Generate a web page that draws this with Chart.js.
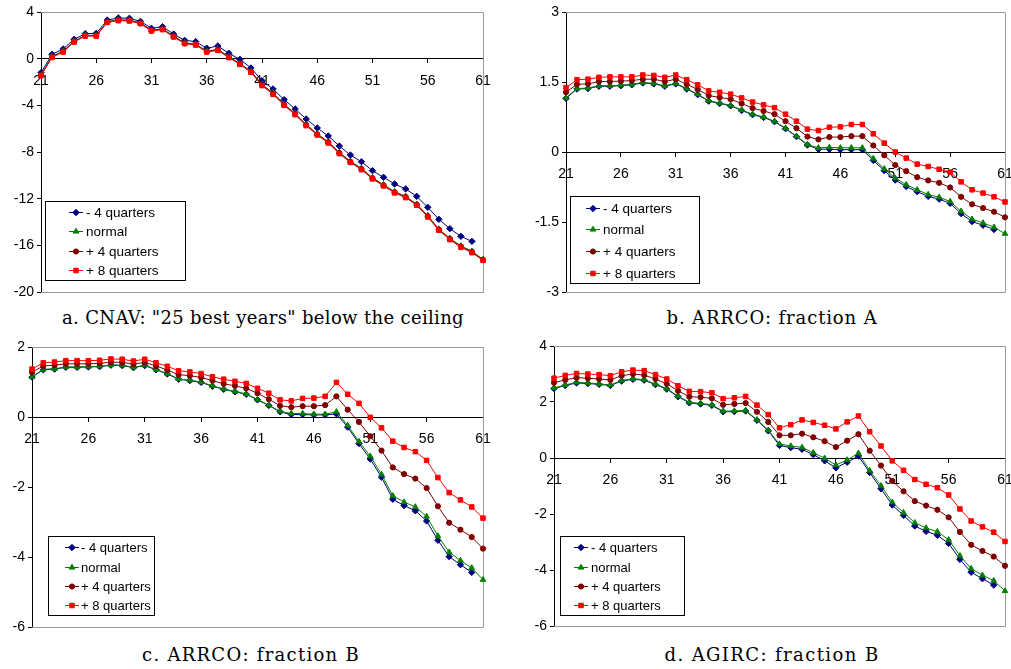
<!DOCTYPE html>
<html><head><meta charset="utf-8">
<script src="https://cdn.jsdelivr.net/npm/chart.js@4.4.1/dist/chart.umd.min.js"></script>
<style>
html,body{margin:0;padding:0;background:#fff;overflow:hidden;width:1011px;height:669px;position:relative;}
canvas{position:absolute;}
.cap{position:absolute;font-family:"DejaVu Serif",serif;font-size:18px;line-height:18px;color:#000;white-space:nowrap;transform:translateX(-50%);}
</style></head><body>
<canvas id="ca" width="505" height="305" style="left:0;top:0"></canvas>
<canvas id="cb" width="520" height="305" style="left:520px;top:0"></canvas>
<canvas id="cc" width="505" height="310" style="left:0;top:330px"></canvas>
<canvas id="cd" width="520" height="310" style="left:520px;top:330px"></canvas>
<div class="cap" id="capA" style="left:263px;top:309px;letter-spacing:0.34px"></div>
<div class="cap" id="capB" style="left:772px;top:309px;letter-spacing:0.87px"></div>
<div class="cap" id="capC" style="left:251px;top:646px;letter-spacing:1.27px"></div>
<div class="cap" id="capD" style="left:772px;top:646px;letter-spacing:1.4px"></div>
<script>
// ---- data ----
const ages = [21,22,23,24,25,26,27,28,29,30,31,32,33,34,35,36,37,38,39,40,41,42,43,44,45,46,47,48,49,50,51,52,53,54,55,56,57,58,59,60,61];
const seriesNames = ['- 4 quarters','normal','+ 4 quarters','+ 8 quarters'];
const captions = ['a. CNAV: "25 best years" below the ceiling','b. ARRCO: fraction A','c. ARRCO: fraction B','d. AGIRC: fraction B'];

// Panel a: CNAV
const aMinus4 = [-1.2,0.37,0.83,1.66,2.14,2.17,3.31,3.49,3.46,3.2,2.6,2.74,2.11,1.57,1.46,0.89,1.09,0.46,-0.06,-0.8,-1.89,-2.6,-3.51,-4.31,-5.17,-5.94,-6.63,-7.49,-8.26,-8.83,-9.6,-10.17,-10.74,-11.17,-11.8,-12.74,-13.77,-14.57,-15.23,-15.66,null];
const aNormal = [-1.4,0.2,0.65,1.5,2.0,2.0,3.18,3.34,3.31,3.07,2.44,2.57,1.94,1.36,1.25,0.65,0.8,0.17,-0.41,-1.08,-2.2,-2.95,-3.9,-4.7,-5.64,-6.44,-7.12,-8.03,-8.79,-9.4,-10.2,-10.8,-11.4,-11.8,-12.47,-13.45,-14.6,-15.4,-16.05,-16.5,-17.2];
const aPlus4 = [-1.43,0.15,0.61,1.46,1.97,1.97,3.14,3.3,3.27,3.03,2.4,2.53,1.9,1.32,1.21,0.61,0.75,0.13,-0.45,-1.12,-2.25,-3.0,-3.95,-4.75,-5.69,-6.49,-7.17,-8.08,-8.84,-9.45,-10.25,-10.85,-11.45,-11.85,-12.52,-13.51,-14.65,-15.45,-16.1,-16.56,-17.25];
const aPlus8 = [-1.46,0.11,0.57,1.43,1.94,1.94,3.11,3.26,3.23,3.0,2.37,2.49,1.86,1.29,1.17,0.57,0.71,0.09,-0.49,-1.17,-2.31,-3.06,-4.0,-4.8,-5.74,-6.54,-7.23,-8.14,-8.89,-9.51,-10.31,-10.91,-11.51,-11.91,-12.57,-13.57,-14.71,-15.51,-16.17,-16.63,-17.29];

// Panel b: ARRCO fraction A
const bMinus4 = [1.15,1.35,1.36,1.41,1.41,1.42,1.44,1.48,1.46,1.41,1.46,1.35,1.23,1.09,1.04,0.99,0.89,0.8,0.74,0.65,0.5,0.33,0.15,0.06,0.06,0.05,0.05,0.05,-0.18,-0.4,-0.6,-0.74,-0.85,-0.95,-1.01,-1.1,-1.32,-1.49,-1.57,-1.66,null];
const bNormal = [1.16,1.36,1.37,1.42,1.42,1.43,1.45,1.49,1.47,1.42,1.47,1.36,1.24,1.1,1.05,1.0,0.9,0.81,0.75,0.66,0.51,0.34,0.16,0.09,0.1,0.09,0.09,0.09,-0.14,-0.36,-0.56,-0.7,-0.81,-0.91,-0.97,-1.06,-1.27,-1.44,-1.52,-1.61,-1.75];
const bPlus4 = [1.28,1.45,1.46,1.51,1.51,1.52,1.53,1.56,1.56,1.51,1.56,1.45,1.34,1.21,1.17,1.13,1.04,0.94,0.88,0.81,0.66,0.51,0.33,0.27,0.32,0.32,0.34,0.34,0.14,-0.07,-0.28,-0.41,-0.54,-0.61,-0.66,-0.76,-0.96,-1.12,-1.2,-1.28,-1.4];
const bPlus8 = [1.38,1.55,1.56,1.6,1.61,1.61,1.61,1.65,1.64,1.6,1.65,1.55,1.44,1.31,1.28,1.24,1.16,1.07,1.01,0.95,0.81,0.66,0.49,0.46,0.53,0.54,0.59,0.59,0.39,0.19,0.0,-0.13,-0.26,-0.31,-0.37,-0.43,-0.64,-0.81,-0.88,-0.96,-1.07];

// Panel c: ARRCO fraction B
const cMinus4 = [1.14,1.35,1.37,1.42,1.42,1.43,1.44,1.48,1.47,1.41,1.47,1.35,1.23,1.08,1.04,0.99,0.88,0.79,0.72,0.65,0.49,0.33,0.15,0.07,0.07,0.06,0.06,0.09,-0.29,-0.76,-1.2,-1.72,-2.35,-2.53,-2.68,-2.97,-3.52,-3.99,-4.22,-4.44,null];
const cNormal = [1.15,1.36,1.38,1.43,1.43,1.44,1.45,1.49,1.48,1.42,1.48,1.36,1.24,1.09,1.05,1.0,0.89,0.8,0.73,0.66,0.5,0.34,0.16,0.1,0.1,0.08,0.08,0.15,-0.24,-0.7,-1.12,-1.64,-2.25,-2.43,-2.57,-2.84,-3.4,-3.86,-4.1,-4.31,-4.65];
const cPlus4 = [1.28,1.46,1.48,1.52,1.52,1.52,1.53,1.57,1.56,1.51,1.56,1.46,1.34,1.21,1.18,1.13,1.04,0.95,0.89,0.82,0.68,0.51,0.32,0.28,0.31,0.31,0.34,0.59,0.21,-0.14,-0.55,-0.96,-1.44,-1.63,-1.76,-2.03,-2.55,-3.02,-3.22,-3.43,-3.76];
const cPlus8 = [1.37,1.55,1.57,1.61,1.61,1.61,1.62,1.66,1.65,1.6,1.65,1.55,1.45,1.32,1.29,1.24,1.15,1.08,1.02,0.96,0.82,0.68,0.49,0.46,0.53,0.54,0.59,0.99,0.65,0.39,-0.01,-0.31,-0.69,-0.87,-0.99,-1.24,-1.73,-2.16,-2.37,-2.57,-2.89];

// Panel d: AGIRC fraction B
const dMinus4 = [2.48,2.59,2.68,2.66,2.63,2.59,2.75,2.81,2.78,2.62,2.46,2.19,1.97,1.93,1.88,1.65,1.66,1.68,1.35,0.97,0.45,0.37,0.31,0.12,-0.1,-0.35,-0.15,0.07,-0.52,-1.1,-1.68,-2.05,-2.43,-2.62,-2.76,-3.05,-3.62,-4.08,-4.31,-4.54,null];
const dNormal = [2.5,2.61,2.7,2.68,2.65,2.61,2.77,2.83,2.8,2.64,2.48,2.21,1.99,1.95,1.9,1.67,1.68,1.7,1.37,0.99,0.5,0.43,0.38,0.19,-0.01,-0.25,-0.07,0.17,-0.45,-0.99,-1.58,-1.95,-2.31,-2.5,-2.63,-2.92,-3.49,-3.95,-4.19,-4.38,-4.75];
const dPlus4 = [2.69,2.79,2.87,2.85,2.82,2.79,2.94,3.0,2.96,2.82,2.65,2.4,2.19,2.17,2.13,1.9,1.93,1.96,1.65,1.29,0.81,0.81,0.87,0.74,0.6,0.39,0.62,0.85,0.26,-0.27,-0.82,-1.19,-1.54,-1.7,-1.85,-2.12,-2.64,-3.1,-3.32,-3.52,-3.85];
const dPlus8 = [2.85,2.95,3.02,3.0,2.98,2.94,3.08,3.14,3.12,2.98,2.82,2.58,2.38,2.37,2.33,2.12,2.15,2.2,1.89,1.55,1.08,1.19,1.36,1.27,1.17,1.04,1.29,1.5,0.94,0.43,-0.1,-0.44,-0.77,-0.94,-1.06,-1.32,-1.82,-2.25,-2.46,-2.65,-2.98];

// y-axis ranges per panel
const aY = {min:-20, max:4, step:4};
const bY = {min:-3, max:3, step:1.5};
const cY = {min:-6, max:2, step:2};
const dY = {min:-6, max:4, step:2};
const xRange = {min:21, max:61, step:5};

// ---- styles ----
const styles = [
  {color:'#000080', point:'rectRot', r:3.2, order:4},
  {color:'#008000', point:'triangle', r:3.2, order:3},
  {color:'#800000', point:'circle', r:2.6, order:2},
  {color:'#FF0000', point:'rect', r:3.2, order:1}
];
const FONT = '"Liberation Sans", Arial, sans-serif';

function drawMarker(ctx, style, x, y, r, color){
  ctx.save();
  ctx.fillStyle = color; ctx.strokeStyle = color; ctx.lineWidth = 1;
  ctx.beginPath();
  if (style === 'rectRot'){
    ctx.moveTo(x, y-r); ctx.lineTo(x+r, y); ctx.lineTo(x, y+r); ctx.lineTo(x-r, y); ctx.closePath();
  } else if (style === 'triangle'){
    ctx.moveTo(x, y-r); ctx.lineTo(x+r*0.87, y+r*0.5); ctx.lineTo(x-r*0.87, y+r*0.5); ctx.closePath();
  } else if (style === 'circle'){
    ctx.arc(x, y, r, 0, Math.PI*2);
  } else {
    const s = r/Math.SQRT2;
    ctx.rect(x-s, y-s, 2*s, 2*s);
  }
  ctx.fill(); ctx.stroke();
  ctx.restore();
}

const framePlugin = {
  id:'frame',
  beforeDatasetsDraw(chart){
    const {ctx, chartArea:a} = chart;
    ctx.save(); ctx.strokeStyle = '#9a9a9a'; ctx.lineWidth = 1;
    ctx.beginPath();
    const l = Math.round(a.left), r = Math.round(a.right)+0.5, t = Math.round(a.top)+0.5, b = Math.round(a.bottom)+0.5;
    ctx.moveTo(l, t); ctx.lineTo(r, t); ctx.lineTo(r, b); ctx.lineTo(l, b);
    ctx.stroke(); ctx.restore();
  }
};

const legendPlugin = {
  id:'boxLegend',
  afterDraw(chart, args, o){
    const ctx = chart.ctx; const b = o.box;
    ctx.save();
    ctx.fillStyle = '#fff'; ctx.fillRect(b.x, b.y, b.w, b.h);
    ctx.strokeStyle = '#000'; ctx.lineWidth = 1; ctx.strokeRect(b.x+0.5, b.y+0.5, b.w, b.h);
    ctx.font = o.font; ctx.textBaseline = 'middle'; ctx.textAlign = 'left';
    chart.data.datasets.forEach((ds, i) => {
      const y = o.rows[i] + 0.5;
      ctx.strokeStyle = ds.borderColor; ctx.lineWidth = 1;
      ctx.beginPath(); ctx.moveTo(o.x0, y); ctx.lineTo(o.x1, y); ctx.stroke();
      drawMarker(ctx, ds.pointStyle, (o.x0+o.x1)/2, y, ds.pointRadius, ds.borderColor);
      ctx.fillStyle = '#000'; ctx.fillText(ds.label, o.tx, y+0.5);
    });
    ctx.restore();
  }
};

function toPts(vals){ return ages.map((a,i)=>({x:a, y:vals[i]})); }

function makeChart(id, series, yr, yW, pad, legend){
  const datasets = series.map((vals, i) => ({
    label: seriesNames[i],
    data: toPts(vals),
    borderColor: styles[i].color,
    backgroundColor: styles[i].color,
    pointBackgroundColor: styles[i].color,
    pointBorderColor: styles[i].color,
    pointStyle: styles[i].point,
    pointRadius: styles[i].r,
    pointBorderWidth: 1,
    borderWidth: 1,
    tension: 0,
    order: styles[i].order,
    clip: false
  }));
  return new Chart(document.getElementById(id), {
    type: 'line',
    data: { datasets },
    options: {
      responsive: false, animation: false, devicePixelRatio: 1,
      layout: { padding: pad },
      plugins: { legend:{display:false}, tooltip:{enabled:false}, boxLegend: legend },
      scales: {
        x: {
          type: 'linear', min: xRange.min, max: xRange.max,
          position: { y: 0 },
          ticks: { stepSize: xRange.step, autoSkip:false, maxRotation:0, color:'#000', padding:10, font:{family:FONT, size:14} },
          grid: { drawOnChartArea:false, drawTicks:true, tickLength:4, color:'#000' },
          border: { color:'#000', width:1 }
        },
        y: {
          type: 'linear', min: yr.min, max: yr.max,
          ticks: { stepSize: yr.step, color:'#000', padding:3, font:{family:FONT, size:14}, callback: v => String(v) },
          grid: { drawOnChartArea:false, drawTicks:true, tickLength:4, color:'#000' },
          border: { color:'#000', width:1 },
          afterFit: s => { s.width = yW; }
        }
      }
    },
    plugins: [framePlugin, legendPlugin]
  });
}

const lf = '13.5px ' + FONT;
makeChart('ca', [aMinus4, aNormal, aPlus4, aPlus8], aY, 41, {top:12, right:22, bottom:13, left:0},
  {box:{x:45,y:201,w:140,h:79}, rows:[212,231,251,270], x0:69, x1:83, tx:86, font:lf});
makeChart('cb', [bMinus4, bNormal, bPlus4, bPlus8], bY, 46, {top:12, right:35, bottom:13, left:0},
  {box:{x:50,y:196,w:129,h:87}, rows:[208,229,251,273], x0:66, x1:80, tx:83, font:lf});
makeChart('cc', [cMinus4, cNormal, cPlus4, cPlus8], cY, 32, {top:17, right:22, bottom:13, left:0},
  {box:{x:48,y:206,w:106,h:79}, rows:[217,237,256,275], x0:65, x1:79, tx:81, font:'13px ' + FONT});
makeChart('cd', [dMinus4, dNormal, dPlus4, dPlus8], dY, 34, {top:16, right:35, bottom:14, left:0},
  {box:{x:40,y:206,w:124,h:79}, rows:[217,237,256,275], x0:54, x1:68, tx:71, font:'13px ' + FONT});

document.getElementById('capA').textContent = captions[0];
document.getElementById('capB').textContent = captions[1];
document.getElementById('capC').textContent = captions[2];
document.getElementById('capD').textContent = captions[3];
</script>
</body></html>
